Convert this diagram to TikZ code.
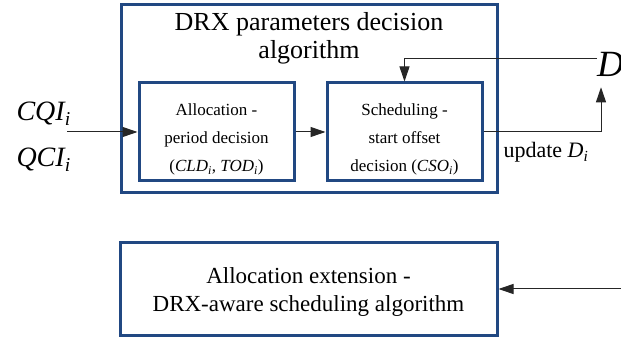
\documentclass[tikz,border=0pt]{standalone}
\usepackage{fontspec}
\setmainfont{Liberation Serif}
\usetikzlibrary{positioning,arrows.meta}

\definecolor{boxblue}{RGB}{33,72,130}
\newcommand{\sbi}[1]{\textsubscript{\textit{#1}}}
\newcommand{\topgap}{\rule{0pt}{27pt}}

\begin{document}
\begin{tikzpicture}[
  x=1pt, y=1pt,
  block/.style = {
    rectangle, draw=boxblue, line width=3pt, align=center,
    inner sep=0pt,
  },
  stage/.style = {
    block, minimum width=155pt, minimum height=98pt,
    font=\fontsize{17}{28}\selectfont,
  },
  arrow/.style = {-{Triangle[length=15pt,width=10pt]}, line width=1pt, draw=black!85},
  node distance=30pt,
]
  \useasboundingbox (0,0) rectangle (621,340);

  % decision algorithm with its two stages
  \node[block, minimum width=376pt, minimum height=188pt] (outer) at (309,241) {};
  \node[below=5pt of outer.north, align=center,
        font=\fontsize{26}{28}\selectfont] (title) {DRX parameters decision\\algorithm};
  \node[stage] (alloc) at (216.5,208)
        {\topgap Allocation -\\period decision\\(\textit{CLD}\sbi{i}, \textit{TOD}\sbi{i})};
  \node[stage, right=of alloc] (sched)
        {\topgap Scheduling -\\start offset\\decision (\textit{CSO}\sbi{i})};

  % scheduler below
  \node[block, minimum width=377pt, minimum height=92pt,
        font=\fontsize{23}{28}\selectfont] (drx) at (308.5,51)
        {\rule{0pt}{22pt}Allocation extension -\\DRX-aware scheduling algorithm};

  % inputs and outputs
  \node[anchor=base west, font=\fontsize{28}{30}\selectfont\itshape] (cqi) at (13,219) {CQI\sbi{i}};
  \node[anchor=base west, font=\fontsize{28}{30}\selectfont\itshape] (qci) at (13,173) {QCI\sbi{i}};
  \node[anchor=base west, inner sep=0pt, font=\fontsize{37}{40}\selectfont\itshape] (dvec) at (597,263) {D};
  \node[anchor=base west, font=\fontsize{22}{24}\selectfont] (upd) at (500,182) {update \textit{D}\sbi{i}};

  \coordinate (in) at (67,208);
  \coordinate (ext) at (621,51);
  \coordinate[below right=10pt and 4pt of dvec.south west] (tip);

  \draw[arrow] (in) -- (alloc);
  \draw[arrow] (alloc) -- (sched);
  \draw[arrow] (sched.east) -| (tip);
  \draw[arrow] ([yshift=6pt]dvec.west) -| (sched.north);
  \draw[arrow] (ext) -- (drx);
\end{tikzpicture}
\end{document}
